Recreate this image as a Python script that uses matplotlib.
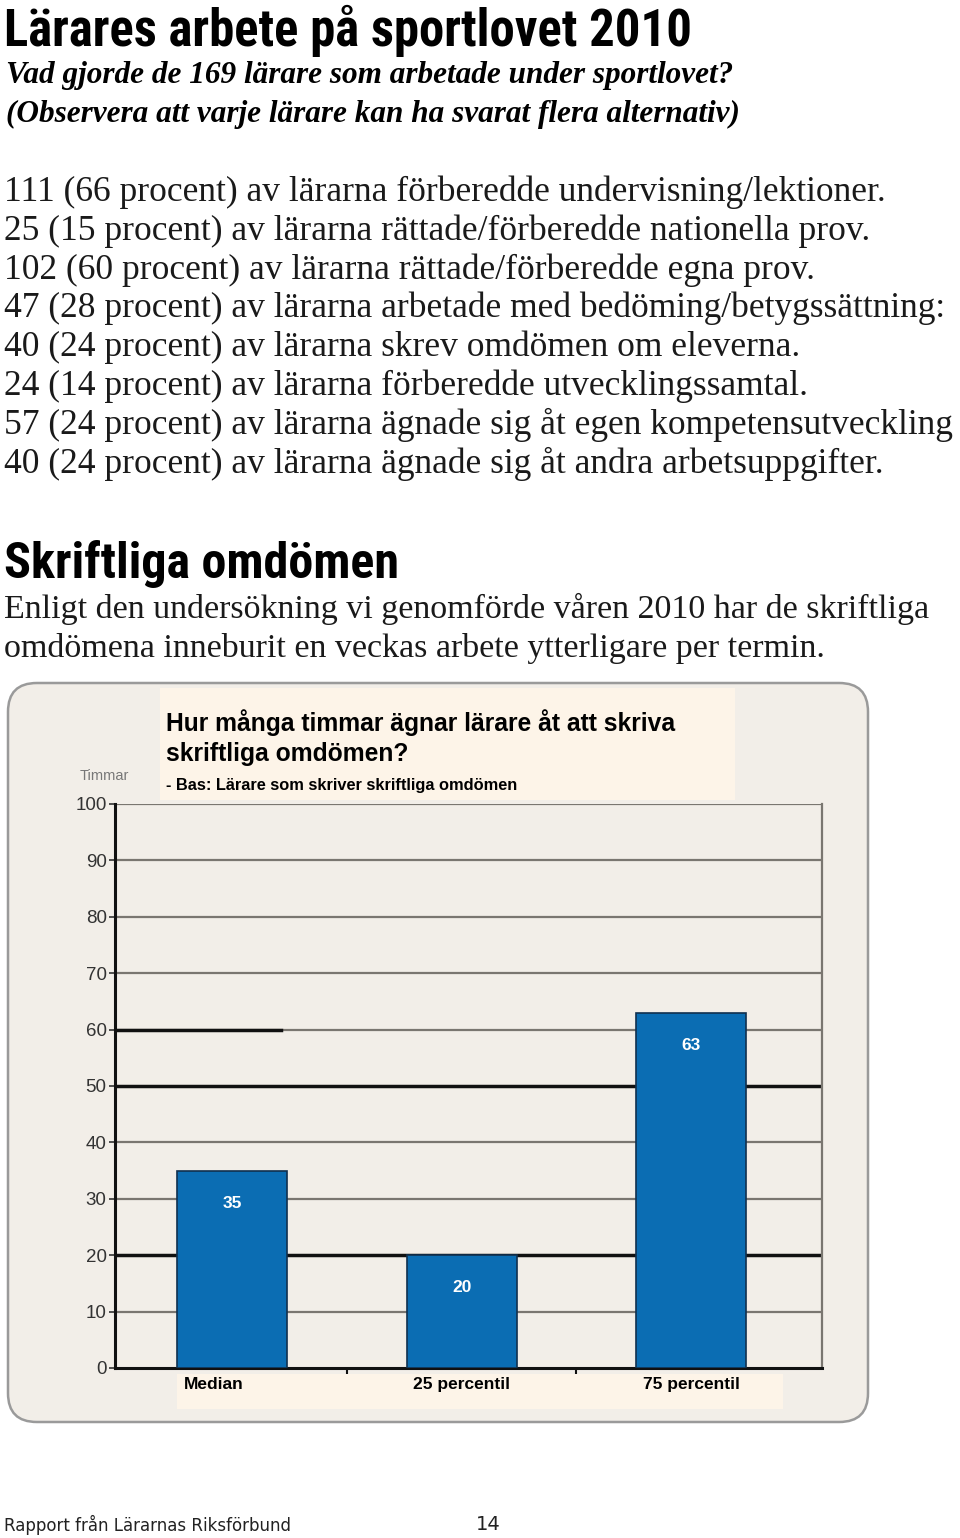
import matplotlib
matplotlib.use("Agg")
import matplotlib.pyplot as plt
from matplotlib import font_manager
from matplotlib.patches import FancyBboxPatch, Rectangle

categories = ["Median", "25 percentil", "75 percentil"]
hours = [35, 20, 63]
yticks = [0, 10, 20, 30, 40, 50, 60, 70, 80, 90, 100]

title = "Lärares arbete på sportlovet 2010"
intro = ["Vad gjorde de 169 lärare som arbetade under sportlovet?",
         "(Observera att varje lärare kan ha svarat flera alternativ)"]
body = ["111 (66 procent) av lärarna förberedde undervisning/lektioner.",
        "25 (15 procent) av lärarna rättade/förberedde nationella prov.",
        "102 (60 procent) av lärarna rättade/förberedde egna prov.",
        "47 (28 procent) av lärarna arbetade med bedöming/betygssättning:",
        "40 (24 procent) av lärarna skrev omdömen om eleverna.",
        "24 (14 procent) av lärarna förberedde utvecklingssamtal.",
        "57 (24 procent) av lärarna ägnade sig åt egen kompetensutveckling",
        "40 (24 procent) av lärarna ägnade sig åt andra arbetsuppgifter."]
heading2 = "Skriftliga omdömen"
body2 = ["Enligt den undersökning vi genomförde våren 2010 har de skriftliga",
         "omdömena inneburit en veckas arbete ytterligare per termin."]
chart_title = ["Hur många timmar ägnar lärare åt att skriva",
               "skriftliga omdömen?"]
chart_sub = "- Bas: Lärare som skriver skriftliga omdömen"

W, H = 960, 1538
fig = plt.figure(figsize=(W / 100, H / 100), dpi=100)


def fx(x):
    return x / W


def fy(y):
    return 1 - y / H


# pick a narrow bold sans for the headings if one is installed
cond = None
for fam, stretch in [("Liberation Sans Narrow", "condensed"),
                     ("Roboto Condensed", "normal"),
                     ("DejaVu Sans", "condensed"),
                     ("Open Sans", "condensed")]:
    fp = font_manager.FontProperties(family=fam, weight="bold", stretch=stretch)
    try:
        path = font_manager.findfont(fp, fallback_to_default=False)
    except Exception:
        continue
    if "ondensed" in path or "arrow" in path:
        cond = dict(family=fam, fontstretch=stretch, weight="bold")
        break
if cond is None:
    cond = dict(family="DejaVu Sans", weight="bold")
    title_size, head_size = 29, 29
else:
    title_size, head_size = 36.5, 36

serif = "Liberation Serif"

fig.text(fx(4), fy(46), title, fontsize=title_size, va="baseline", **cond)
for i, line in enumerate(intro):
    fig.text(fx(6), fy(83 + 39 * i), line, fontsize=22.5, family=serif,
             style="italic", weight="bold", va="baseline")
for i, line in enumerate(body):
    fig.text(fx(4), fy(201 + 38.8 * i), line, fontsize=25.5, family=serif,
             va="baseline", color="#1a1a1a")
fig.text(fx(4), fy(578), heading2, fontsize=head_size, va="baseline", **cond)
for i, line in enumerate(body2):
    fig.text(fx(4), fy(618 + 39 * i), line, fontsize=24.5, family=serif,
             va="baseline", color="#1a1a1a")

# chart panel
panel = FancyBboxPatch((fx(8), fy(1422)), fx(860), (1422 - 683) / H,
                       boxstyle="round,pad=0,rounding_size=0.03",
                       transform=fig.transFigure, facecolor="#F2EEE8",
                       edgecolor="#9a9a9a", linewidth=1.8, mutation_aspect=W / H,
                       zorder=0)
fig.patches.append(panel)
fig.patches.append(Rectangle((fx(160), fy(800)), fx(575), (800 - 688) / H,
                             transform=fig.transFigure, facecolor="#FDF4E8",
                             edgecolor="none", zorder=0))
fig.patches.append(Rectangle((fx(177), fy(1409)), fx(606), (1409 - 1374) / H,
                             transform=fig.transFigure, facecolor="#FDF4E8",
                             edgecolor="none", zorder=0))

for i, line in enumerate(chart_title):
    fig.text(fx(166), fy(731 + 30 * i), line, fontsize=17.7,
             family="Liberation Sans", weight="bold", va="baseline")
fig.text(fx(166), fy(790), chart_sub, fontsize=11.8, family="Liberation Sans",
         weight="bold", va="baseline")
fig.text(fx(80), fy(780), "Timmar", fontsize=10.5, family="Liberation Sans",
         color="#777777", va="baseline")

ax = fig.add_axes([fx(115), fy(1368), fx(822 - 115), (1368 - 804) / H])
ax.set_zorder(2)
ax.set_facecolor("#F2EEE8")
ax.set_xlim(-0.51, 2.57)
ax.set_ylim(0, 100)
for t in yticks[1:]:
    col, lw = ("#111111", 2.5) if t in (20, 50) else ("#7a7670", 1.6)
    ax.axhline(t, color=col, lw=lw, zorder=1)
ax.axhline(60, xmin=0, xmax=0.235, color="#111111", lw=2.5, zorder=1)

x = range(len(categories))
bars = ax.bar(x, hours, width=0.48, color="#0B6DB3", edgecolor="#10304f",
              linewidth=1.2, zorder=3)
for b, v in zip(bars, hours):
    ax.text(b.get_x() + b.get_width() / 2, v - 5.8, str(v), ha="center",
            va="center", color="white", fontsize=12.5, weight="bold",
            family="Liberation Sans", zorder=4)

ax.set_yticks(yticks)
ax.set_yticklabels([str(t) for t in yticks], fontsize=13.5,
                   family="Liberation Sans", color="#333333")
ax.set_xticks([0.5, 1.5])
ax.set_xticklabels([])
ax.tick_params(axis="x", length=4, width=1.5, color="#111111")
ax.tick_params(axis="y", length=4, width=1.2, color="#333333", pad=2)
for s in ("left", "bottom"):
    ax.spines[s].set_color("#111111")
    ax.spines[s].set_linewidth(2.2)
ax.spines["right"].set_color("#7a7670")
ax.spines["right"].set_linewidth(1.6)
ax.spines["top"].set_visible(False)
for b, name in zip(bars, categories):
    ax.text(b.get_x() + 0.03, -1.6, name, ha="left", va="top", fontsize=12.5,
            weight="bold", family="Liberation Sans", clip_on=False)

fig.text(fx(4), fy(1531), "Rapport från Lärarnas Riksförbund", fontsize=12,
         family="DejaVu Sans", va="baseline", color="#222222")
fig.text(fx(476), fy(1530), "14", fontsize=14, family="DejaVu Sans",
         va="baseline", color="#222222")

fig.savefig("out.png", dpi=100, facecolor="white")
